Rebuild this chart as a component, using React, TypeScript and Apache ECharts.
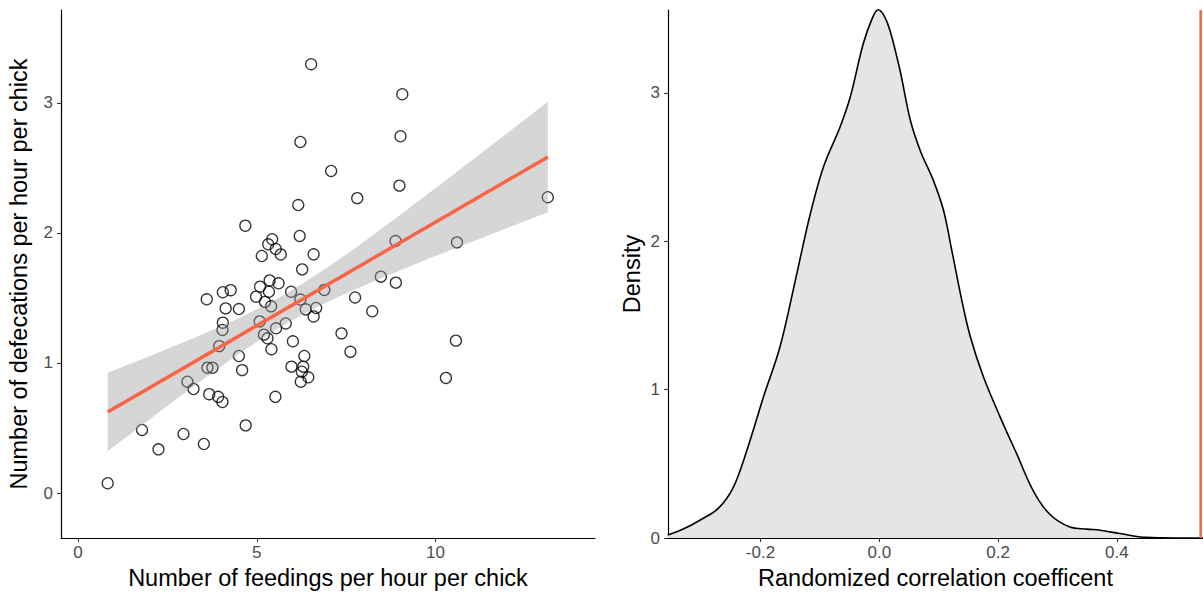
import React, { useEffect, useRef } from "react";
import * as echarts from "echarts";

// ---- Left panel: feedings vs defecations (per hour per chick) ----
const feedings = [
  0.83, 1.79, 2.25, 2.95, 3.52, 3.06, 3.23, 3.6, 3.62, 3.76,
  3.67, 3.92, 4.04, 3.95, 4.04, 4.05, 4.05, 4.27, 4.13, 4.5,
  4.59, 4.5, 4.68, 4.69, 4.98, 5.08, 5.09, 5.14, 5.2, 5.3,
  5.23, 5.32, 5.34, 5.36, 5.43, 5.4, 5.41, 5.53, 5.54, 5.67,
  5.61, 5.52, 5.81, 5.96, 6.01, 5.97, 6.16, 6.2, 6.22, 6.22,
  6.27, 6.37, 6.33, 6.3, 6.26, 6.44, 6.23, 6.52, 6.59, 6.66,
  6.59, 6.89, 7.08, 7.37, 7.62, 7.75, 7.81, 8.23, 8.47, 8.88,
  8.89, 8.99, 9.02, 9.07, 10.29, 10.57, 10.6, 13.14,
];
const defecations = [
  0.075, 0.485, 0.336, 0.454, 0.377, 0.856, 0.8, 1.49, 0.964, 0.964,
  0.76, 0.74, 0.7, 1.13, 1.254, 1.31, 1.544, 1.56, 1.42, 1.054,
  0.945, 1.415, 2.056, 0.52, 1.51, 1.32, 1.587, 1.823, 1.218, 1.19,
  1.47, 1.913, 1.548, 1.635, 1.952, 1.436, 1.106, 1.877, 1.267, 1.835,
  1.613, 0.74, 1.304, 1.548, 1.167, 0.972, 2.215, 1.977, 2.7, 1.488,
  1.72, 1.413, 1.054, 0.972, 0.933, 0.89, 0.856, 3.298, 1.836, 1.423,
  1.358, 1.562, 2.477, 1.228, 1.086, 1.504, 2.268, 1.398, 1.664, 1.938,
  1.618, 2.364, 2.744, 3.067, 0.885, 1.172, 1.928, 2.275,
];
const leftXTicks = [0, 5, 10];
const leftYTicks = [0, 1, 2, 3];

// ---- Right panel: density of randomized correlation coefficients ----
const densityX = [
  -0.356, -0.33, -0.302, -0.271, -0.246, -0.223, -0.195, -0.167, -0.14, -0.117,
  -0.094, -0.066, -0.049, -0.027, -0.012, -0.002, 0.008, 0.018, 0.035, 0.052,
  0.069, 0.091, 0.108, 0.122, 0.139, 0.153, 0.175, 0.203, 0.231, 0.259,
  0.287, 0.321, 0.35, 0.372, 0.405, 0.45, 0.5, 0.545,
];
const densityY = [
  0.02, 0.06, 0.12, 0.2, 0.34, 0.59, 0.95, 1.29, 1.76, 2.17,
  2.5, 2.77, 2.97, 3.33, 3.5, 3.56, 3.52, 3.42, 3.15, 2.82,
  2.61, 2.41, 2.21, 1.94, 1.6, 1.36, 1.09, 0.82, 0.57, 0.32,
  0.16, 0.074, 0.06, 0.052, 0.03, 0.004, 0.0, 0.0,
];
const observedR = 0.541;
const rightXTicks = [-0.2, 0, 0.2, 0.4];
const rightYTicks = [0, 1, 2, 3];

const FONT = "'Liberation Sans', Arial, Helvetica, sans-serif";
const RED = "#FA6446";

function fit() {
  const n = feedings.length;
  const mx = feedings.reduce((s, v) => s + v, 0) / n;
  const my = defecations.reduce((s, v) => s + v, 0) / n;
  let sxx = 0, sxy = 0;
  for (let i = 0; i < n; i++) {
    sxx += (feedings[i] - mx) ** 2;
    sxy += (feedings[i] - mx) * (defecations[i] - my);
  }
  const b = sxy / sxx;
  const a = my - b * mx;
  let sse = 0;
  for (let i = 0; i < n; i++) sse += (defecations[i] - a - b * feedings[i]) ** 2;
  const s = Math.sqrt(sse / (n - 2));
  const t = 1.9917;
  const xmin = Math.min(...feedings);
  const xmax = Math.max(...feedings);
  const line: number[][] = [];
  const up: number[][] = [];
  const lo: number[][] = [];
  const steps = 80;
  for (let k = 0; k <= steps; k++) {
    const x = xmin + ((xmax - xmin) * k) / steps;
    const yhat = a + b * x;
    const se = s * Math.sqrt(1 / n + (x - mx) ** 2 / sxx);
    line.push([x, yhat]);
    up.push([x, yhat + t * se]);
    lo.push([x, yhat - t * se]);
  }
  return { line, up, lo };
}

export default function App() {
  const ref = useRef<HTMLDivElement>(null);
  useEffect(() => {
    if (!ref.current) return;
    const chart = echarts.init(ref.current, undefined, { renderer: "svg" });
    const { line, up, lo } = fit();
    const scatterData = feedings.map((x, i) => [x, defecations[i]]);
    const densData = densityX.map((x, i) => [x, densityY[i]]);

    const axisCommon = {
      axisLine: { show: true, onZero: false, lineStyle: { color: "#000", width: 1.2 } },
      splitLine: { show: false },
      nameTextStyle: { color: "#000", fontSize: 23.5, fontFamily: FONT },
      nameLocation: "middle",
    };
    const tick = (vals: number[]) => ({
      show: true,
      length: 4,
      lineStyle: { color: "#333", width: 1.1 },
      customValues: vals,
    });
    const label = (vals: number[], margin: number, fmt?: (v: number) => string) => ({
      customValues: vals,
      color: "#4d4d4d",
      fontSize: 17,
      fontFamily: FONT,
      margin,
      formatter: fmt ? (v: number) => fmt(v) : (v: number) => String(Math.round(v)),
    });

    chart.setOption({
      animation: false,
      backgroundColor: "#fff",
      grid: [
        { left: 61, top: 10, width: 534, height: 528 },
        { left: 668, top: 10, width: 535, height: 528 },
      ],
      xAxis: [
        {
          ...axisCommon,
          type: "value",
          gridIndex: 0,
          min: -0.476,
          max: 14.46,
          name: "Number of feedings per hour per chick",
          nameGap: 27,
          axisTick: tick(leftXTicks),
          axisLabel: label(leftXTicks, 6),
        },
        {
          ...axisCommon,
          type: "value",
          gridIndex: 1,
          min: -0.3557,
          max: 0.545,
          name: "Randomized correlation coefficent",
          nameGap: 27,
          axisTick: tick(rightXTicks),
          axisLabel: label(rightXTicks, 6, (v) => v.toFixed(1)),
        },
      ],
      yAxis: [
        {
          ...axisCommon,
          type: "value",
          gridIndex: 0,
          min: -0.346,
          max: 3.715,
          name: "Number of defecations per hour per chick",
          nameGap: 30,
          axisTick: tick(leftYTicks),
          axisLabel: label(leftYTicks, 8),
        },
        {
          ...axisCommon,
          type: "value",
          gridIndex: 1,
          min: 0,
          max: 3.558,
          name: "Density",
          nameGap: 24,
          axisTick: tick(rightYTicks),
          axisLabel: label(rightYTicks, 8),
        },
      ],
      series: [
        {
          type: "scatter",
          xAxisIndex: 0,
          yAxisIndex: 0,
          data: scatterData,
          symbol: "circle",
          symbolSize: 11,
          itemStyle: { color: "rgba(0,0,0,0)", borderColor: "#000", borderWidth: 1.3 },
          z: 2,
        },
        {
          type: "custom",
          xAxisIndex: 0,
          yAxisIndex: 0,
          data: [line[0]],
          z: 3,
          silent: true,
          renderItem: (_params: any, api: any) => {
            const pts = up.map((p) => api.coord(p)).concat(lo.slice().reverse().map((p) => api.coord(p)));
            return {
              type: "polygon",
              shape: { points: pts },
              style: { fill: "rgba(153,153,153,0.4)" },
            };
          },
        },
        {
          type: "line",
          xAxisIndex: 0,
          yAxisIndex: 0,
          data: line,
          showSymbol: false,
          lineStyle: { color: RED, width: 3.5 },
          z: 4,
        },
        {
          type: "line",
          xAxisIndex: 1,
          yAxisIndex: 1,
          data: densData,
          smooth: 0.35,
          showSymbol: false,
          lineStyle: { color: "#000", width: 1.6 },
          areaStyle: { color: "#e5e5e5", opacity: 1 },
          z: 2,
        },
        {
          type: "line",
          xAxisIndex: 1,
          yAxisIndex: 1,
          data: [
            [observedR, 0],
            [observedR, 3.558],
          ],
          showSymbol: false,
          lineStyle: { color: RED, width: 2.5 },
          z: 3,
        },
      ],
    });
    return () => chart.dispose();
  }, []);
  return (
    <div
      ref={ref}
      style={{ position: "fixed", left: 0, top: 0, width: 1203, height: 596, background: "#fff" }}
    />
  );
}
